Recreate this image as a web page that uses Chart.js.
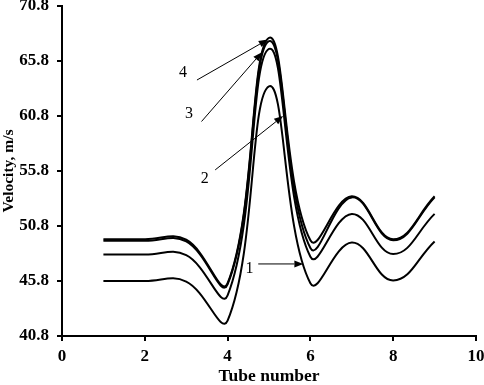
<!DOCTYPE html>
<html><head><meta charset="utf-8">
<script src="https://cdn.jsdelivr.net/npm/chart.js@4/dist/chart.umd.min.js"></script>
<style>html,body{margin:0;padding:0;background:#fff;} #wrap{width:484px;height:385px;position:relative;}</style>
</head><body><div id="wrap"><canvas id="c"></canvas></div>
<script>
const tubeNumbers = [1, 2, 3, 4, 5, 6, 7, 8, 9];
const curve1 = [45.8, 45.8, 45.75, 42.2, 63.5, 45.6, 49.3, 45.85, 49.4];
const curve2 = [48.2, 48.2, 48.15, 44.5, 66.9, 48.0, 51.9, 48.25, 51.9];
const curve3 = [49.45, 49.45, 49.4, 45.5, 67.6, 48.8, 53.4, 49.5, 53.4];
const curve4 = [49.6, 49.6, 49.55, 45.6, 67.9, 49.5, 53.5, 49.6, 53.5];
const yTickValues = [40.8, 45.8, 50.8, 55.8, 60.8, 65.8, 70.8];
const xTickValues = [0, 2, 4, 6, 8, 10];
const curveNames = ['1', '2', '3', '4'];
// annotation callouts (data coordinates)
const calloutText = ['4', '3', '2', '1'];
const calloutAt = [[2.92, 64.75], [3.07, 61.0], [3.45, 55.1], [4.53, 46.9]];
const arrowFrom = [[3.26, 64.07], [3.37, 60.3], [3.70, 55.9], [4.74, 47.35]];
const arrowTo = [[4.97, 67.75], [4.83, 66.6], [5.34, 60.8], [5.83, 47.35]];

const SERIF = '"Liberation Serif", "Times New Roman", serif';
const allCurves = [curve1, curve2, curve3, curve4];

const datasets = allCurves.map((c, i) => ({
  label: curveNames[i],
  data: tubeNumbers.map((x, j) => ({x: x, y: c[j]})),
  borderColor: '#000',
  borderWidth: 2,
  pointRadius: 0,
  tension: 0.42,
  fill: false
}));

const calloutPlugin = {
  id: 'callouts',
  afterDatasetsDraw(chart) {
    const ctx = chart.ctx, xs = chart.scales.x, ys = chart.scales.y;
    ctx.save();
    ctx.fillStyle = '#000';
    ctx.strokeStyle = '#000';
    ctx.font = '16px ' + SERIF;
    ctx.textAlign = 'center';
    ctx.textBaseline = 'middle';
    calloutText.forEach((t, i) => {
      ctx.fillText(t, xs.getPixelForValue(calloutAt[i][0]), ys.getPixelForValue(calloutAt[i][1]));
      const x0 = xs.getPixelForValue(arrowFrom[i][0]), y0 = ys.getPixelForValue(arrowFrom[i][1]);
      const x1 = xs.getPixelForValue(arrowTo[i][0]), y1 = ys.getPixelForValue(arrowTo[i][1]);
      const ang = Math.atan2(y1 - y0, x1 - x0);
      const L = 9, W = 3.5;
      const bx = x1 - L * Math.cos(ang), by = y1 - L * Math.sin(ang);
      ctx.lineWidth = 1;
      ctx.beginPath(); ctx.moveTo(x0, y0); ctx.lineTo(bx, by); ctx.stroke();
      ctx.beginPath();
      ctx.moveTo(x1, y1);
      ctx.lineTo(bx + W * Math.sin(ang), by - W * Math.cos(ang));
      ctx.lineTo(bx - W * Math.sin(ang), by + W * Math.cos(ang));
      ctx.closePath(); ctx.fill();
    });
    ctx.restore();
  }
};

new Chart(document.getElementById('c'), {
  type: 'line',
  data: {datasets: datasets},
  plugins: [calloutPlugin],
  options: {
    responsive: true,
    maintainAspectRatio: false,
    animation: false,
    layout: {padding: {top: 6, right: 8, bottom: 0, left: 0}},
    plugins: {legend: {display: false}, tooltip: {enabled: false}},
    scales: {
      x: {
        type: 'linear', min: 0, max: 10,
        afterBuildTicks: s => { s.ticks = xTickValues.map(v => ({value: v})); },
        afterFit: s => { s.height = 49; s.paddingLeft = 0; s.paddingRight = 0; },
        grid: {display: true, drawOnChartArea: false, drawTicks: true, tickLength: 5, color: '#000', lineWidth: 2},
        border: {display: true, color: '#000', width: 2},
        ticks: {color: '#000', padding: 5, font: {family: SERIF, size: 17, weight: 'bold'}},
        title: {display: true, text: 'Tube number', color: '#000', padding: {top: 0, bottom: -2}, font: {family: SERIF, size: 17.5, weight: 'bold'}}
      },
      y: {
        type: 'linear', min: 40.8, max: 70.8,
        afterBuildTicks: s => { s.ticks = yTickValues.map(v => ({value: v})); },
        afterFit: s => { s.width = 62; s.paddingTop = 0; s.paddingBottom = 0; },
        grid: {display: true, drawOnChartArea: false, drawTicks: true, tickLength: 5, color: '#000', lineWidth: 2},
        border: {display: true, color: '#000', width: 2},
        ticks: {color: '#000', padding: 8, font: {family: SERIF, size: 17, weight: 'bold'}, callback: v => Number(v).toFixed(1)},
        title: {display: true, text: 'Velocity, m/s', color: '#000', padding: {top: 0, bottom: 0}, font: {family: SERIF, size: 15.5, weight: 'bold'}}
      }
    }
  }
});
</script>
</body></html>
